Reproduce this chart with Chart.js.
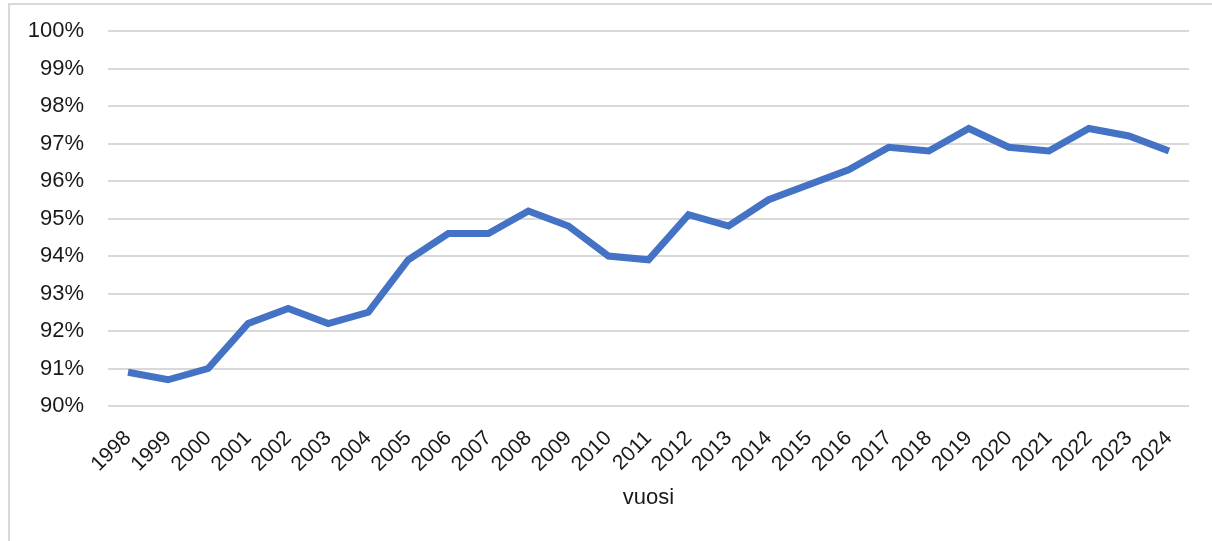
<!DOCTYPE html>
<html lang="fi">
<head>
    <meta charset="UTF-8">
    <title>Osuus vuosittain</title>
    <script src="https://cdn.jsdelivr.net/npm/chart.js"></script>
    <style>
        html, body { margin: 0; padding: 0; background: #fff; }
        #frame {
            position: absolute; left: 8px; top: 3px; width: 1204px; height: 538px;
            border-left: 2px solid #d9d9d9; border-top: 2px solid #d9d9d9;
        }
        #wrap { position: absolute; left: 0; top: 0; width: 1212px; height: 541px; }
    </style>
</head>
<body>
    <div id="frame"></div>
    <div id="wrap"><canvas id="chart"></canvas></div>
    <script>
        // vuodet ja arvot (%)
        const vuodet = ['1998', '1999', '2000', '2001', '2002', '2003', '2004', '2005', '2006',
            '2007', '2008', '2009', '2010', '2011', '2012', '2013', '2014', '2015', '2016',
            '2017', '2018', '2019', '2020', '2021', '2022', '2023', '2024'];
        const osuus = [90.9, 90.7, 91.0, 92.2, 92.6, 92.2, 92.5, 93.9, 94.6,
            94.6, 95.2, 94.8, 94.0, 93.9, 95.1, 94.8, 95.5, 95.9, 96.3,
            96.9, 96.8, 97.4, 96.9, 96.8, 97.4, 97.2, 96.8];
        const yMin = 90, yMax = 100;

        const fontFam = '"Liberation Sans", Arial, sans-serif';

        new Chart(document.getElementById('chart'), {
            type: 'line',
            data: {
                labels: vuodet,
                datasets: [{
                    data: osuus,
                    borderColor: '#4472C4',
                    borderWidth: 7,
                    pointRadius: 0,
                    tension: 0,
                    fill: false
                }]
            },
            options: {
                responsive: true,
                maintainAspectRatio: false,
                animation: false,
                layout: { padding: { left: 0, right: 23, top: 31, bottom: 30 } },
                plugins: {
                    legend: { display: false },
                    tooltip: { enabled: false }
                },
                scales: {
                    x: {
                        offset: true,
                        grid: { display: false },
                        border: { display: false },
                        ticks: {
                            color: '#1a1a1a',
                            font: { family: fontFam, size: 21 },
                            maxRotation: 45, minRotation: 45,
                            autoSkip: false,
                            padding: 12
                        },
                        title: {
                            display: true,
                            text: 'vuosi',
                            color: '#1a1a1a',
                            font: { family: fontFam, size: 22 },
                            padding: { top: 10, bottom: 0 }
                        },
                        afterFit: s => { s.height = 105; s.paddingLeft = 0; s.paddingRight = 0; }
                    },
                    y: {
                        min: yMin, max: yMax,
                        grid: { color: '#d9d9d9', lineWidth: 2, drawTicks: false },
                        border: { display: false },
                        ticks: {
                            stepSize: 1,
                            color: '#1a1a1a',
                            font: { family: fontFam, size: 22 },
                            padding: 24,
                            callback: v => v + '%'
                        },
                        afterFit: s => { s.width = 108; s.paddingTop = 0; s.paddingBottom = 0; }
                    }
                }
            }
        });
    </script>
</body>
</html>
